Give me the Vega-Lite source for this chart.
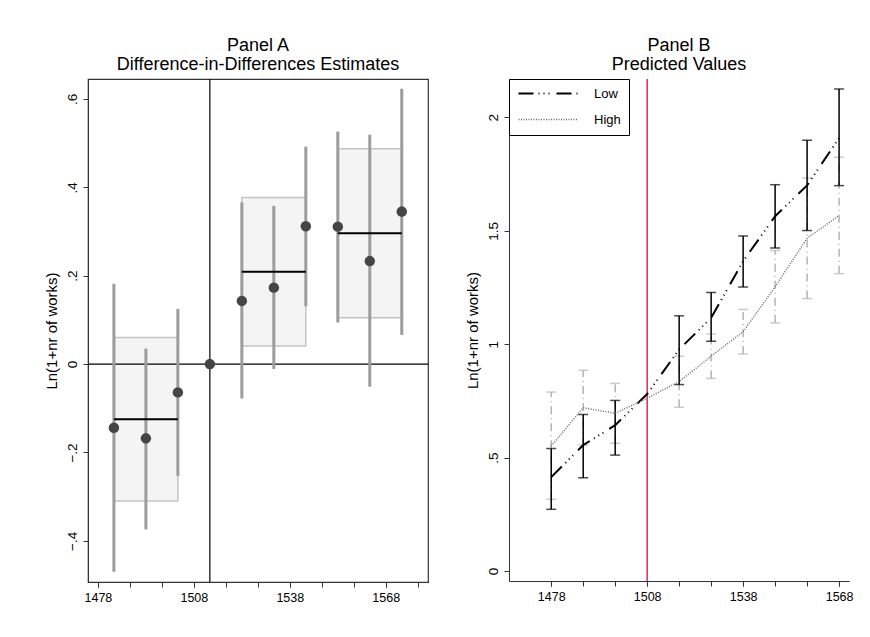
{
  "$schema": "https://vega.github.io/schema/vega-lite/v6.json",
  "padding": {"left": 43, "top": 36, "right": 10, "bottom": 10},
  "spacing": 35,
  "resolve": {"legend": {"color": "independent", "strokeDash": "independent", "strokeWidth": "independent"}},
  "config": {
    "font": "Liberation Sans",
    "view": {"stroke": null},
    "title": {"fontSize": 18, "fontWeight": "normal", "color": "#000", "anchor": "middle", "lineHeight": 19, "offset": 4, "font": "Liberation Sans"},
    "axis": {"grid": false, "domainColor": "#333", "tickColor": "#333", "labelColor": "#000", "titleColor": "#000", "labelFontSize": 12.5, "titleFontSize": 15, "titleFontWeight": "normal", "tickSize": 5, "labelFont": "Liberation Sans", "titleFont": "Liberation Sans", "labelOverlap": false, "labelSeparation": 0, "labelBound": false}
  },
  "datasets": {
    "estA": [
      {"year": 1483, "est": -0.144, "lo": -0.470, "hi": 0.182},
      {"year": 1493, "est": -0.168, "lo": -0.374, "hi": 0.035},
      {"year": 1503, "est": -0.064, "lo": -0.253, "hi": 0.125},
      {"year": 1513, "est": 0, "lo": null, "hi": null},
      {"year": 1523, "est": 0.143, "lo": -0.078, "hi": 0.366},
      {"year": 1533, "est": 0.173, "lo": -0.011, "hi": 0.358},
      {"year": 1543, "est": 0.312, "lo": 0.131, "hi": 0.492},
      {"year": 1553, "est": 0.311, "lo": 0.094, "hi": 0.526},
      {"year": 1563, "est": 0.233, "lo": -0.051, "hi": 0.519},
      {"year": 1573, "est": 0.345, "lo": 0.066, "hi": 0.623}
    ],
    "boxA": [
      {"start": 1483, "end": 1503, "lo": -0.310, "hi": 0.060, "mean": -0.125},
      {"start": 1523, "end": 1543, "lo": 0.041, "hi": 0.377, "mean": 0.209},
      {"start": 1553, "end": 1573, "lo": 0.105, "hi": 0.487, "mean": 0.296}
    ],
    "predB": [
      {"year": 1478, "group": "Low", "value": 0.414, "lo": 0.272, "hi": 0.540},
      {"year": 1488, "group": "Low", "value": 0.555, "lo": 0.411, "hi": 0.690},
      {"year": 1498, "group": "Low", "value": 0.643, "lo": 0.511, "hi": 0.752},
      {"year": 1508, "group": "Low", "value": 0.780, "lo": null, "hi": null},
      {"year": 1518, "group": "Low", "value": 0.977, "lo": 0.822, "hi": 1.125},
      {"year": 1528, "group": "Low", "value": 1.116, "lo": 1.013, "hi": 1.228},
      {"year": 1538, "group": "Low", "value": 1.366, "lo": 1.252, "hi": 1.477},
      {"year": 1548, "group": "Low", "value": 1.564, "lo": 1.424, "hi": 1.703},
      {"year": 1558, "group": "Low", "value": 1.700, "lo": 1.501, "hi": 1.899},
      {"year": 1568, "group": "Low", "value": 1.909, "lo": 1.699, "hi": 2.125},
      {"year": 1478, "group": "High", "value": 0.551, "lo": 0.316, "hi": 0.789},
      {"year": 1488, "group": "High", "value": 0.720, "lo": 0.555, "hi": 0.885},
      {"year": 1498, "group": "High", "value": 0.695, "lo": 0.563, "hi": 0.827},
      {"year": 1508, "group": "High", "value": 0.762, "lo": null, "hi": null},
      {"year": 1518, "group": "High", "value": 0.835, "lo": 0.722, "hi": 0.947},
      {"year": 1528, "group": "High", "value": 0.947, "lo": 0.849, "hi": 1.045},
      {"year": 1538, "group": "High", "value": 1.055, "lo": 0.957, "hi": 1.153},
      {"year": 1548, "group": "High", "value": 1.253, "lo": 1.094, "hi": 1.413},
      {"year": 1558, "group": "High", "value": 1.467, "lo": 1.201, "hi": 1.733},
      {"year": 1568, "group": "High", "value": 1.567, "lo": 1.311, "hi": 1.824}
    ]
  },
  "hconcat": [
    {
      "width": 340,
      "height": 503,
      "view": {"stroke": "#333", "strokeWidth": 1.2},
      "title": {"text": ["Panel A", "Difference-in-Differences Estimates"], "fontSize": 18},
      "resolve": {"axis": {"x": "independent"}},
      "layer": [
        {
          "data": {"name": "boxA"},
          "mark": {"type": "rect", "fill": "#f4f4f4", "stroke": "#c4c4c4", "strokeWidth": 1.5},
          "encoding": {
            "x": {"field": "start", "type": "quantitative", "title": null,
              "scale": {"domain": [1474.9, 1581.2], "nice": false, "zero": false},
              "axis": {"orient": "bottom", "values": [1478, 1508, 1538, 1568], "format": "d", "labelPadding": 4, "labelFlush": false}},
            "x2": {"field": "end"},
            "y": {"field": "lo", "type": "quantitative", "title": "Ln(1+nr of works)",
              "scale": {"domain": [-0.493, 0.645], "nice": false, "zero": false},
              "axis": {"values": [-0.4, -0.2, 0, 0.2, 0.4, 0.6], "labelExpr": "datum.value == 0 ? '0' : replace(format(datum.value, '.1f'), '0.', '.')", "labelAngle": -90, "labelAlign": "center", "labelBaseline": "bottom", "labelFontSize": 13.5, "labelPadding": 4, "titlePadding": 6, "labelOverlap": false}},
            "y2": {"field": "hi"}
          }
        },
        {
          "data": {"values": [{}]},
          "mark": {"type": "rule", "color": "#000", "strokeWidth": 1.2},
          "encoding": {"y": {"datum": 0, "type": "quantitative", "title": "Ln(1+nr of works)"}}
        },
        {
          "data": {"values": [{}]},
          "mark": {"type": "rule", "color": "#000", "strokeWidth": 1.2},
          "encoding": {"x": {"datum": 1513, "type": "quantitative", "title": null,
            "axis": {"orient": "bottom", "values": [1478, 1488, 1498, 1508, 1518, 1528, 1538, 1548, 1558, 1568, 1578], "labels": false, "domain": false}}}
        },
        {
          "data": {"name": "estA"},
          "transform": [{"filter": "isValid(datum.lo)"}],
          "mark": {"type": "rule", "color": "#9c9c9c", "strokeWidth": 3},
          "encoding": {
            "x": {"field": "year", "type": "quantitative", "title": null, "axis": null},
            "y": {"field": "lo", "type": "quantitative", "title": "Ln(1+nr of works)"},
            "y2": {"field": "hi"}
          }
        },
        {
          "data": {"name": "boxA"},
          "mark": {"type": "rule", "color": "#000", "strokeWidth": 2},
          "encoding": {
            "x": {"field": "start", "type": "quantitative", "title": null, "axis": null},
            "x2": {"field": "end"},
            "y": {"field": "mean", "type": "quantitative", "title": "Ln(1+nr of works)"}
          }
        },
        {
          "data": {"name": "estA"},
          "mark": {"type": "point", "filled": true, "color": "#454545", "opacity": 1, "size": 110},
          "encoding": {
            "x": {"field": "year", "type": "quantitative", "title": null, "axis": null},
            "y": {"field": "est", "type": "quantitative", "title": "Ln(1+nr of works)"}
          }
        }
      ]
    },
    {
      "width": 340,
      "height": 502,
      "title": {"text": ["Panel B", "Predicted Values"], "fontSize": 18},
      "data": {"name": "predB"},
      "resolve": {"axis": {"x": "independent"}},
      "layer": [
        {
          "data": {"values": [{}]},
          "mark": {"type": "rule", "color": "#d62d55", "strokeWidth": 1.5},
          "encoding": {
            "x": {"datum": 1508, "type": "quantitative", "title": null,
              "scale": {"domain": [1464.8, 1571.1], "nice": false, "zero": false},
              "axis": {"orient": "bottom", "values": [1478, 1508, 1538, 1568], "format": "d", "labelPadding": 4, "labelFlush": false}}
          }
        },
        {
          "transform": [{"filter": "datum.group == 'High' && isValid(datum.lo)"}],
          "mark": {"type": "rule", "color": "#b4b4b4", "strokeWidth": 1.5, "strokeDash": [8, 4, 1, 4]},
          "encoding": {
            "x": {"field": "year", "type": "quantitative", "title": null,
              "axis": {"orient": "bottom", "values": [1478, 1488, 1498, 1508, 1518, 1528, 1538, 1548, 1558, 1568], "labels": false, "domain": false}},
            "y": {"field": "lo", "type": "quantitative", "title": "Ln(1+nr of works)",
              "scale": {"domain": [-0.044, 2.169], "nice": false, "zero": false},
              "axis": {"values": [0, 0.5, 1, 1.5, 2], "labelExpr": "datum.value == 0 ? '0' : replace(format(datum.value, '~g'), '0.', '.')", "labelAngle": -90, "labelAlign": "center", "labelBaseline": "bottom", "labelFontSize": 13.5, "labelPadding": 4, "titlePadding": 6, "labelOverlap": false}},
            "y2": {"field": "hi"}
          }
        },
        {
          "transform": [{"filter": "datum.group == 'High' && isValid(datum.lo)"}, {"fold": ["lo", "hi"], "as": ["bound", "bval"]}],
          "mark": {"type": "tick", "orient": "horizontal", "color": "#b4b4b4", "size": 10, "thickness": 1.5},
          "encoding": {
            "x": {"field": "year", "type": "quantitative", "title": null, "axis": null},
            "y": {"field": "bval", "type": "quantitative", "title": "Ln(1+nr of works)"}
          }
        },
        {
          "transform": [{"filter": "datum.group == 'Low' && isValid(datum.lo)"}],
          "mark": {"type": "rule", "color": "#000", "strokeWidth": 1.5},
          "encoding": {
            "x": {"field": "year", "type": "quantitative", "title": null, "axis": null},
            "y": {"field": "lo", "type": "quantitative", "title": "Ln(1+nr of works)"},
            "y2": {"field": "hi"}
          }
        },
        {
          "transform": [{"filter": "datum.group == 'Low' && isValid(datum.lo)"}, {"fold": ["lo", "hi"], "as": ["bound", "bval"]}],
          "mark": {"type": "tick", "orient": "horizontal", "color": "#000", "size": 10, "thickness": 1.5},
          "encoding": {
            "x": {"field": "year", "type": "quantitative", "title": null, "axis": null},
            "y": {"field": "bval", "type": "quantitative", "title": "Ln(1+nr of works)"}
          }
        },
        {
          "mark": {"type": "line"},
          "encoding": {
            "x": {"field": "year", "type": "quantitative", "title": null, "axis": null},
            "y": {"field": "value", "type": "quantitative", "title": "Ln(1+nr of works)"},
            "color": {"field": "group", "type": "nominal", "title": null,
              "scale": {"domain": ["Low", "High"], "range": ["#000000", "#6a6a6a"]},
              "legend": {"orient": "top-left", "offset": 0, "strokeColor": "#000", "padding": 8, "symbolType": "M-1,0H11", "symbolSize": 100, "symbolStrokeWidth": 2, "labelFontSize": 13, "rowPadding": 12, "labelOffset": 64, "fillColor": "#fff", "labelFont": "Liberation Sans", "labelColor": "#000"}},
            "strokeDash": {"field": "group", "type": "nominal", "title": null,
              "scale": {"domain": ["Low", "High"], "range": [[15, 5, 1, 4, 1, 4, 1, 7], [1, 1.5]]}},
            "strokeWidth": {"field": "group", "type": "nominal", "legend": null,
              "scale": {"domain": ["Low", "High"], "range": [2, 1.5]}}
          }
        }
      ]
    }
  ]
}
